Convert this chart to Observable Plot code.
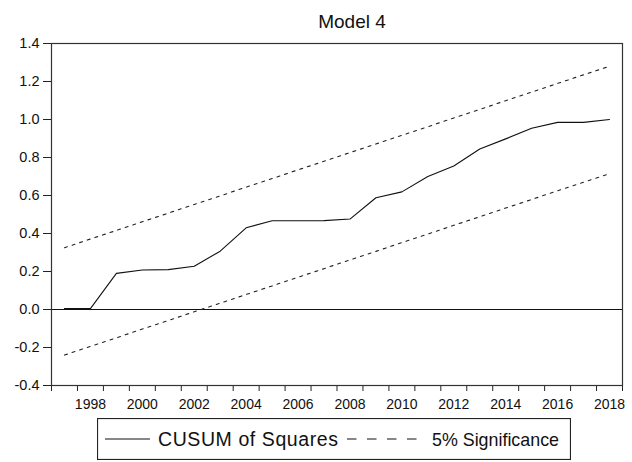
<!DOCTYPE html>
<html>
<head>
<meta charset="utf-8">
<script src="https://cdn.jsdelivr.net/npm/d3@7"></script>
<script src="https://cdn.jsdelivr.net/npm/@observablehq/plot@0.6"></script>
<style>
  html, body { margin: 0; padding: 0; background: #fff; }
  #wrap { position: relative; width: 632px; height: 462px; font-family: "Liberation Sans", Arial, sans-serif; }
  #legend { position: absolute; left: 97px; top: 418px; }
</style>
</head>
<body>
<div id="wrap"><div id="chart"></div><div id="legend"></div></div>
<script>
const title = "Model 4";
const years = [1997, 1998, 1999, 2000, 2001, 2002, 2003, 2004, 2005, 2006, 2007,
               2008, 2009, 2010, 2011, 2012, 2013, 2014, 2015, 2016, 2017, 2018];
const cusumSq = [0.005, 0.005, 0.19, 0.208, 0.21, 0.228, 0.307, 0.43, 0.467, 0.467, 0.468,
                 0.476, 0.588, 0.619, 0.70, 0.755, 0.845, 0.898, 0.954, 0.985, 0.985, 1.0];
const upper5 = [0.325, 0.371, 0.416, 0.462, 0.507, 0.553, 0.598, 0.644, 0.689, 0.735, 0.780,
                0.826, 0.871, 0.917, 0.962, 1.008, 1.053, 1.099, 1.144, 1.190, 1.235, 1.280];
const lower5 = [-0.240, -0.194, -0.149, -0.103, -0.058, -0.012, 0.033, 0.079, 0.124, 0.170, 0.215,
                0.261, 0.306, 0.352, 0.397, 0.443, 0.488, 0.534, 0.579, 0.625, 0.670, 0.715];
const yTicks = [-0.4, -0.2, 0.0, 0.2, 0.4, 0.6, 0.8, 1.0, 1.2, 1.4];
const xLabelYears = [1998, 2000, 2002, 2004, 2006, 2008, 2010, 2012, 2014, 2016, 2018];
const seriesNames = ["CUSUM of Squares", "5% Significance"];

const cusumData = years.map((yr, i) => ({year: yr, value: cusumSq[i]}));
const upperData = years.map((yr, i) => ({year: yr, value: upper5[i]}));
const lowerData = years.map((yr, i) => ({year: yr, value: lower5[i]}));
const tickBounds = [years[0] - 0.5, ...years.map(y => y + 0.5)];

const chart = Plot.plot({
  width: 632,
  height: 416,
  marginTop: 43,
  marginLeft: 51,
  marginRight: 10,
  marginBottom: 31,
  style: {fontFamily: '"Liberation Sans", Arial, sans-serif', fontSize: "14px", color: "#111", background: "#fff"},
  x: {domain: [years[0] - 0.5, years[years.length - 1] + 0.5]},
  y: {domain: [-0.4, 1.4]},
  marks: [
    Plot.ruleY([0], {stroke: "#111", strokeWidth: 1}),
    Plot.line(upperData, {x: "year", y: "value", stroke: "#222", strokeWidth: 1.1, strokeDasharray: "3,5"}),
    Plot.line(lowerData, {x: "year", y: "value", stroke: "#222", strokeWidth: 1.1, strokeDasharray: "3,5"}),
    Plot.line(cusumData, {x: "year", y: "value", stroke: "#111", strokeWidth: 1.1}),
    Plot.axisY({ticks: yTicks, tickSize: 8, tickPadding: 4, tickFormat: d => d.toFixed(1), stroke: "#222", label: null, fontSize: 14.5}),
    Plot.axisX({ticks: tickBounds, tickSize: 6, tickFormat: () => "", stroke: "#222", label: null}),
    Plot.axisX({ticks: xLabelYears, tickSize: 0, tickPadding: 14, tickFormat: d => String(d), label: null, fontSize: 14}),
    Plot.frame({stroke: "#333", strokeWidth: 1.2}),
    Plot.text([title], {frameAnchor: "top", dx: 15, dy: -29, fontSize: 19, fill: "#111"})
  ]
});
document.getElementById("chart").appendChild(chart);

// legend below the chart
const lw = 474, lh = 42;
const leg = d3.select("#legend").append("svg")
  .attr("width", lw).attr("height", lh)
  .style("font-family", '"Liberation Sans", Arial, sans-serif');
leg.append("rect").attr("x", 0.5).attr("y", 0.5).attr("width", lw - 1).attr("height", lh - 1)
  .attr("fill", "#fff").attr("stroke", "#222").attr("stroke-width", 1.2);
leg.append("line").attr("x1", 8).attr("x2", 53).attr("y1", 21).attr("y2", 21)
  .attr("stroke", "#111").attr("stroke-width", 1.2);
leg.append("text").attr("x", 61).attr("y", 28).attr("font-size", 19.5).attr("fill", "#111")
  .attr("textLength", 180).attr("lengthAdjust", "spacing").text(seriesNames[0]);
leg.append("line").attr("x1", 250).attr("x2", 321).attr("y1", 21).attr("y2", 21)
  .attr("stroke", "#111").attr("stroke-width", 1.2).attr("stroke-dasharray", "9.5,10.5");
leg.append("text").attr("x", 335).attr("y", 28).attr("font-size", 19).attr("fill", "#111")
  .attr("textLength", 127).attr("lengthAdjust", "spacingAndGlyphs").text(seriesNames[1]);
</script>
</body>
</html>
